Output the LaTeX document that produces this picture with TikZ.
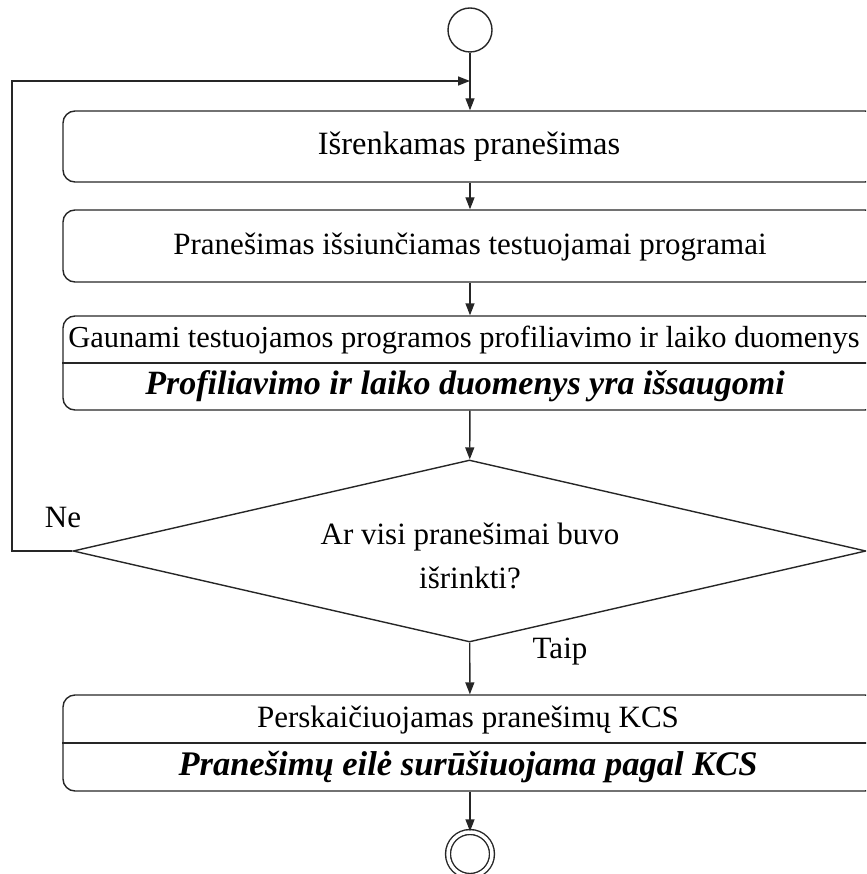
\documentclass[tikz,border=0pt]{standalone}
\usepackage{fontspec}
\setmainfont{Liberation Serif}
\usetikzlibrary{shapes.geometric,arrows.meta}

\begin{document}
\begin{tikzpicture}[x=1pt,y=-1pt,
  line/.style={line width=1.4pt,draw=black!85},
  flow/.style={line,-{Triangle[length=12pt,width=9pt]}},
  actbox/.style={line,rounded corners=12pt,minimum width=814pt,inner sep=0pt},
  txt/.style={font=\fontsize{31}{44}\selectfont,inner sep=0pt},
  btxt/.style={font=\fontsize{34}{44}\selectfont\bfseries\itshape,inner sep=0pt}]
  \useasboundingbox (0,0) rectangle (866,874);
  \clip (0,0) rectangle (866,874);

  % start and end markers
  \node[line,circle,minimum size=44pt,inner sep=0pt] (start) at (470,30) {};
  \node[line,circle,double,double distance=3.5pt,minimum size=44pt,inner sep=0pt] (stop) at (470,854) {};

  % activity boxes
  \node[actbox,minimum height=71pt] (pick) at (470,146.5) {};
  \node[txt,font=\fontsize{32.5}{44}\selectfont] (pickT) at (469,147) {Išrenkamas pranešimas};

  \node[actbox,minimum height=72pt] (send) at (470,246) {};
  \node[txt] (sendT) at (470,247) {Pranešimas išsiunčiamas testuojamai programai};

  \node[actbox,minimum height=94pt] (prof) at (470,363) {};
  \draw[line] (prof.west) -- (prof.east);
  \node[txt,font=\fontsize{30.5}{44}\selectfont] (profA) at (464,340) {Gaunami testuojamos programos profiliavimo ir laiko duomenys};
  \node[btxt] (profB) at (465,386) {Profiliavimo ir laiko duomenys yra išsaugomi};

  % decision
  \node[line,diamond,inner sep=0pt,aspect=4.36,minimum width=793pt,minimum height=182pt] (dec) at (469.5,551) {};
  \node[txt,align=center] (decT) at (470,556) {Ar visi pranešimai buvo\\išrinkti?};

  \node[actbox,minimum height=96pt] (kcs) at (470,743) {};
  \draw[line] (kcs.west) -- (kcs.east);
  \node[txt] (kcsA) at (468,720) {Perskaičiuojamas pranešimų KCS};
  \node[btxt,font=\fontsize{34.5}{44}\selectfont\bfseries\itshape] (kcsB) at (468,767) {Pranešimų eilė surūšiuojama pagal KCS};

  % branch labels
  \node[txt] (no) at (63,517) {Ne};
  \node[txt] (yes) at (560,652) {Taip};

  % connectors
  \draw[flow] (start) -- (pick);
  \draw[flow] (pick) -- (send);
  \draw[flow] (send) -- (prof);
  \draw[flow] (prof) -- (dec);
  \draw[flow] (dec) -- (kcs);
  \draw[flow] (kcs) -- (stop);

  \coordinate (loopA) at (12,551);
  \coordinate (loopB) at (12,81);
  \coordinate (loopC) at (470,81);
  \draw[flow] (dec.west) -- (loopA) -- (loopB) -- (loopC);
\end{tikzpicture}
\end{document}
